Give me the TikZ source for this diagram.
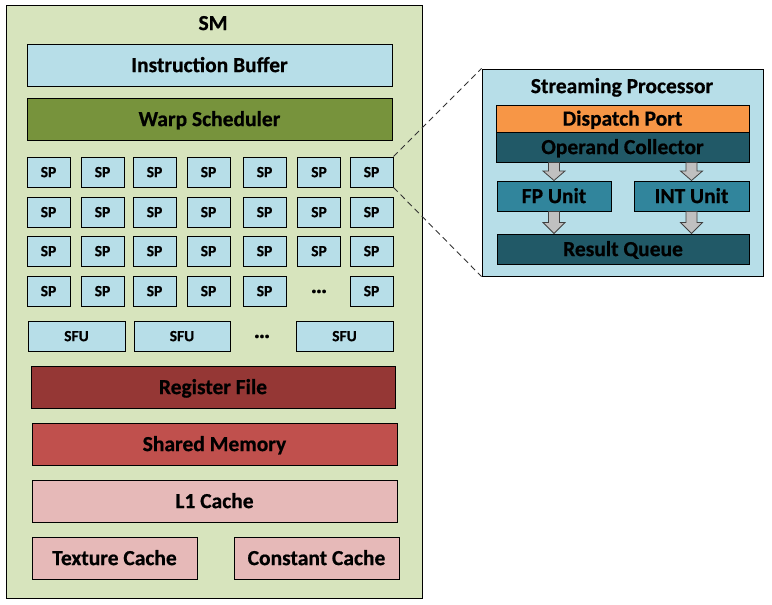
\documentclass[tikz,border=0pt]{standalone}
\usepackage{fontspec}
\setmainfont{Carlito}[BoldFeatures={FakeBold=0.6}]
\usetikzlibrary{calc}
\definecolor{smgreen}{HTML}{D7E4BD}
\definecolor{lblue}{HTML}{B7DEE8}
\definecolor{olive}{HTML}{77933C}
\definecolor{regred}{HTML}{953735}
\definecolor{shred}{HTML}{C0504D}
\definecolor{pink}{HTML}{E6B9B8}
\definecolor{orng}{HTML}{F79646}
\definecolor{dteal}{HTML}{215967}
\definecolor{mteal}{HTML}{31859C}
\definecolor{agray}{HTML}{C0C0C0}
\tikzset{
  bigfont/.style={font=\fontsize{21.5}{25}\selectfont\bfseries, text height=19.4pt, text depth=5.2pt},
  smallfont/.style={font=\fontsize{15.5}{18}\selectfont\bfseries, text height=14pt, text depth=3.7pt},
  box/.style={draw=black, line width=1pt, inner sep=0pt, bigfont, text=black},
  small/.style={box, fill=lblue, minimum width=43pt, minimum height=30pt, smallfont},
  wide/.style={box, minimum width=365pt, minimum height=42pt},
  blockarr/.style={draw=black!75, line width=0.8pt, fill=agray},
  zoomline/.style={draw=black!80, line width=0.9pt, dash pattern=on 6pt off 4pt},
  plain/.style={inner sep=0pt},
  dotsfont/.style={inner sep=0pt, anchor=base, font=\fontsize{23}{25}\selectfont\bfseries}
}
\newcommand\myblockarrow[3]{%
  \draw[blockarr] let \p1=(#1), \p2=(#2) in
    (\x1-5.5pt,\y1) -- (\x1-5.5pt,\y2+#3) -- (\x1-11pt,\y2+#3) -- (\x1,\y2)
    -- (\x1+11pt,\y2+#3) -- (\x1+5.5pt,\y2+#3) -- (\x1+5.5pt,\y1) -- cycle;}
\begin{document}
\begin{tikzpicture}[x=1pt,y=-1pt]
\useasboundingbox (0,0) rectangle (772,605);
% SM container
\node[box, fill=smgreen, minimum width=416pt, minimum height=593pt] (SM) at (214,301.5) {};
\node[plain, bigfont] (SMtitle) at (213,23) {SM};
\node[wide, fill=lblue] (IB) at (209.5,65) {Instruction Buffer};
\node[wide, fill=olive] (WS) at (209.5,119) {Warp Scheduler};
% SP grid
\foreach \r/\yy in {1/172,2/212,3/251}{
  \foreach \c/\xx in {1/48.5,2/102.5,3/154.5,4/208.5,5/264.5,6/319,7/371.5}{
    \node[small] (SP\r\c) at (\xx,\yy) {SP};
  }
}
\foreach \c/\xx in {1/48.5,2/102.5,3/154.5,4/208.5,5/264.5,7/371.5}{
  \node[small] (SP4\c) at (\xx,291) {SP};
}
\node[dotsfont] (SPdots) at (319,293) {…};
% SFU row
\node[small, minimum width=97pt] (SFU1) at (76.5,336) {SFU};
\node[small, minimum width=96pt] (SFU2) at (182,336) {SFU};
\node[dotsfont] (SFUdots) at (262,338) {…};
\node[small, minimum width=97pt] (SFU3) at (344.5,336) {SFU};
% memories
\node[wide, fill=regred, minimum width=364pt] (RF) at (213,387) {Register File};
\node[wide, fill=shred] (SMem) at (214.5,444) {Shared Memory};
\node[wide, fill=pink] (L1) at (214.5,501) {L1 Cache};
\node[box, fill=pink, minimum width=165pt, minimum height=42pt] (TC) at (114.5,558) {Texture Cache};
\node[box, fill=pink, minimum width=165pt, minimum height=42pt] (CC) at (316.5,558) {Constant Cache};
% Streaming processor panel
\node[box, fill=lblue, minimum width=281pt, minimum height=207pt] (SPP) at (622.5,172.5) {};
\node[plain, bigfont] (SPPtitle) at (622,86) {Streaming Processor};
\node[box, fill=orng, minimum width=253pt, minimum height=27pt] (DP) at (622.5,118.5) {Dispatch Port};
\node[box, fill=dteal, minimum width=253pt, minimum height=30pt] (OC) at (622.5,147) {Operand Collector};
\node[box, fill=mteal, minimum width=114pt, minimum height=30pt] (FP) at (554,196) {FP Unit};
\node[box, fill=mteal, minimum width=115pt, minimum height=30pt] (INT) at (691.5,196) {INT Unit};
\node[box, fill=dteal, minimum width=252pt, minimum height=30pt] (RQ) at (623,249) {Result Queue};
% block arrows
\myblockarrow{FP.north |- OC.south}{FP.north}{9.5pt}
\myblockarrow{INT.north |- OC.south}{INT.north}{9.5pt}
\myblockarrow{FP.south}{FP.south |- RQ.north}{11pt}
\myblockarrow{INT.south}{INT.south |- RQ.north}{11pt}
% zoom lines
\draw[zoomline] (SP17.north east) -- (SPP.north west);
\draw[zoomline] (SP17.south east) -- (SPP.south west);
\end{tikzpicture}
\end{document}
